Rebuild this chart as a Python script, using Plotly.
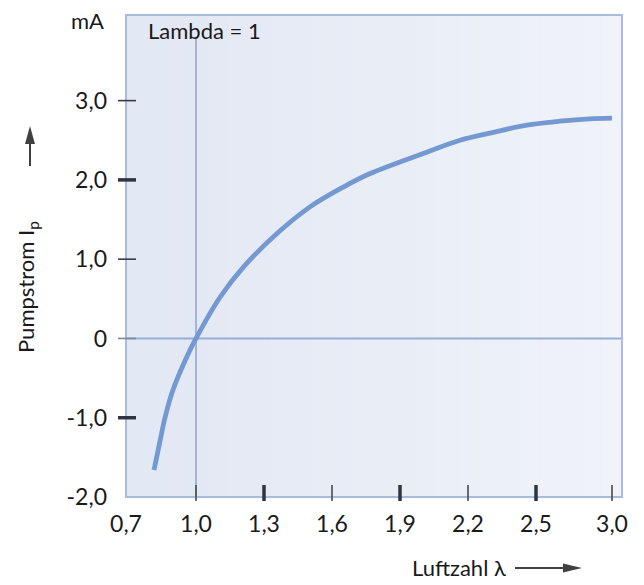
import numpy as np
import plotly.graph_objects as go

# ---- data ----
lambda_vals = [0.82, 0.846, 0.867, 0.90, 0.953, 1.0, 1.106, 1.209, 1.356, 1.503,
               1.65, 1.768, 2.018, 2.165, 2.312, 2.459, 2.658, 2.85, 3.0]
pump_current = [-1.66, -1.29, -1.0, -0.66, -0.28, 0.0, 0.52, 0.90, 1.32, 1.66,
                1.91, 2.08, 2.35, 2.50, 2.60, 2.69, 2.74, 2.77, 2.78]

x_tick_values = [0.7, 1.0, 1.3, 1.6, 1.9, 2.2, 2.5, 3.0]
x_tick_labels = ["0,7", "1,0", "1,3", "1,6", "1,9", "2,2", "2,5", "3,0"]
y_tick_values = [3.0, 2.0, 1.0, 0.0, -1.0, -2.0]
y_tick_labels = ["3,0", "2,0", "1,0", "0", "-1,0", "-2,0"]

# non-linear lambda axis of the original: tick positions (axis units)
x_tick_positions = [0, 70, 138, 206, 274, 342, 410, 486]
X_RANGE = [0, 496]
Y_RANGE = [-2.0, 4.08]


def lam_to_pos(v):
    return np.interp(v, x_tick_values, x_tick_positions)


FONT = "Lato, 'Noto Sans', sans-serif"
W, H = 644, 585
ML, MR, MT, MB = 126, 22, 15, 88
pw = W - ML - MR
ph = H - MT - MB


def px(xp):
    return (xp - ML) / pw


def py(yp):
    return (H - MB - yp) / ph


fig = go.Figure()

fig.add_trace(go.Scatter(
    x=lam_to_pos(lambda_vals), y=pump_current,
    mode="lines", line=dict(color="#7398d2", width=4.8, shape="spline", smoothing=1.0),
    hoverinfo="skip", showlegend=False,
))

shapes = []
# gradient background bands
n = 24
c0 = np.array([0xe2, 0xe8, 0xf4])
c1 = np.array([0xf0, 0xf3, 0xf9])
for i in range(n):
    t = i / (n - 1)
    c = (c0 * (1 - t) + c1 * t).astype(int)
    shapes.append(dict(type="rect", xref="paper", yref="paper",
                       x0=i / n, x1=(i + 1) / n, y0=0, y1=1,
                       fillcolor="rgb(%d,%d,%d)" % tuple(c), line=dict(width=0),
                       layer="below"))
# lambda = 1 line and zero line
shapes.append(dict(type="line", xref="x", yref="paper",
                   x0=lam_to_pos(1.0), x1=lam_to_pos(1.0), y0=0, y1=0.955,
                   line=dict(color="#8ea3c8", width=1.5), layer="below"))
shapes.append(dict(type="line", xref="paper", yref="y", x0=0, x1=1, y0=0, y1=0,
                   line=dict(color="#95aed6", width=2), layer="below"))
# plot frame
shapes.append(dict(type="rect", xref="paper", yref="paper", x0=0, x1=1, y0=0, y1=1,
                   line=dict(color="#a7bce0", width=2), fillcolor="rgba(0,0,0,0)"))

# tick marks (alternating thin / bold as in the original)
for v in y_tick_values:
    if v == -2.0:
        continue
    bold = v in (2.0, -1.0)
    col = "#7d8796" if v == 0 else ("#2e3440" if bold else "#3c3c3c")
    shapes.append(dict(type="line", xref="paper", yref="y",
                       x0=-8 / pw, x1=10 / pw, y0=v, y1=v,
                       line=dict(color=col, width=3.5 if bold else 1.6)))
for v in x_tick_values:
    if v == 0.7:
        continue
    bold = v in (1.3, 1.9, 2.5)
    shapes.append(dict(type="line", xref="x", yref="paper",
                       x0=lam_to_pos(v), x1=lam_to_pos(v), y0=-4 / ph, y1=12 / ph,
                       line=dict(color="#2e3440" if bold else "#4a4a4a",
                                 width=3.5 if bold else 1.6)))

# axis arrows (shaft + filled head)
ARROW = "#404040"
shapes.append(dict(type="line", xref="paper", yref="paper",
                   x0=px(30), x1=px(30), y0=py(166), y1=py(140),
                   line=dict(color=ARROW, width=2)))
shapes.append(dict(type="path", xref="paper", yref="paper",
                   path="M %f %f L %f %f L %f %f Z" % (px(30), py(126), px(25), py(144),
                                                      px(35), py(144)),
                   fillcolor=ARROW, line=dict(width=0)))
shapes.append(dict(type="line", xref="paper", yref="paper",
                   x0=px(515), x1=px(566), y0=py(568), y1=py(568),
                   line=dict(color=ARROW, width=2)))
shapes.append(dict(type="path", xref="paper", yref="paper",
                   path="M %f %f L %f %f L %f %f Z" % (px(582), py(568), px(563), py(563.5),
                                                      px(563), py(572.5)),
                   fillcolor=ARROW, line=dict(width=0)))

annotations = [
    dict(text="mA", xref="paper", yref="paper", x=px(106), y=py(21),
         xanchor="right", yanchor="middle", showarrow=False,
         font=dict(size=22, color="#1a1a1a", family=FONT)),
    dict(text="Lambda = 1", xref="paper", yref="paper", x=px(146), y=py(31),
         xanchor="left", yanchor="middle", showarrow=False,
         font=dict(size=22, color="#1a1a1a", family=FONT)),
    dict(text="Pumpstrom I<sub>p</sub>", xref="paper", yref="paper",
         x=px(27), y=py(287), textangle=-90,
         xanchor="center", yanchor="middle", showarrow=False,
         font=dict(size=22, color="#1a1a1a", family=FONT)),
    dict(text="Luftzahl λ", xref="paper", yref="paper", x=px(508),
         y=py(567), xanchor="right", yanchor="middle", showarrow=False,
         font=dict(size=22, color="#1a1a1a", family=FONT)),
]

fig.update_layout(
    width=W, height=H,
    margin=dict(l=ML, r=MR, t=MT, b=MB, autoexpand=False),
    paper_bgcolor="white", plot_bgcolor="#e8edf6",
    shapes=shapes, annotations=annotations,
    font=dict(family=FONT, size=22, color="#1a1a1a"),
    xaxis=dict(range=X_RANGE, tickvals=list(lam_to_pos(x_tick_values)),
               ticktext=x_tick_labels, ticks="", showgrid=False, zeroline=False,
               showline=False, ticklabelstandoff=11, fixedrange=True, automargin=False,
               tickfont=dict(size=23, color="#1a1a1a")),
    yaxis=dict(range=Y_RANGE, tickvals=y_tick_values, ticktext=y_tick_labels,
               ticks="", showgrid=False, zeroline=False, showline=False,
               ticklabelstandoff=18, fixedrange=True, automargin=False,
               tickfont=dict(size=23, color="#1a1a1a")),
)

fig.write_html(
    "out.html",
    config={"displayModeBar": False},
    post_script="document.body.style.margin='0';document.body.style.overflow='hidden';",
)
